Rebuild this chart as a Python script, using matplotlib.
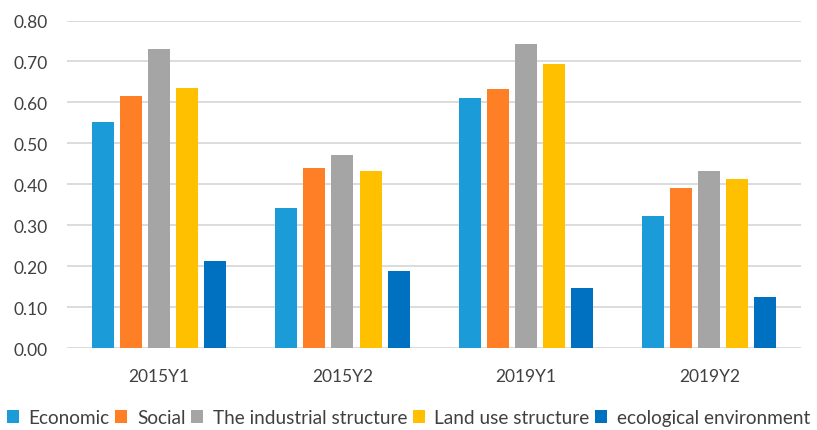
import matplotlib
matplotlib.use("Agg")
import matplotlib.pyplot as plt
import numpy as np

categories = ["2015Y1", "2015Y2", "2019Y1", "2019Y2"]
series_names = ["Economic", "Social", "The industrial structure",
                "Land use structure", "ecological environment"]
economic = [0.553, 0.341, 0.612, 0.322]
social = [0.615, 0.440, 0.633, 0.392]
industrial = [0.730, 0.472, 0.743, 0.432]
land_use = [0.636, 0.432, 0.693, 0.414]
ecological = [0.212, 0.188, 0.146, 0.124]
yticks = [0.0, 0.1, 0.2, 0.3, 0.4, 0.5, 0.6, 0.7, 0.8]

colors = ["#1B9BD7", "#FF7F27", "#A5A5A5", "#FFC000", "#0070C0"]
series = [economic, social, industrial, land_use, ecological]

plt.rcParams['font.family'] = ['Lato', 'DejaVu Sans']

fig = plt.figure(figsize=(8.17, 4.31), dpi=100)
ax = fig.add_axes([0.0824, 0.190, 0.898, 0.760])

x = np.arange(len(categories))
step = 0.153
width = 0.12
handles = []
for i, (vals, c, name) in enumerate(zip(series, colors, series_names)):
    b = ax.bar(x + (i - 2) * step, vals, width=width, color=c, label=name, zorder=3)
    handles.append(b)

ax.set_xlim(-0.5, len(categories) - 0.5)
ax.set_ylim(0, 0.8)
ax.set_yticks(yticks)
ax.set_yticklabels([f"{v:.2f}" for v in yticks])
ax.set_xticks(x)
ax.set_xticklabels(categories)
ax.tick_params(axis='both', length=0, labelsize=12.5, colors="#404040")
ax.tick_params(axis='x', pad=14)
ax.tick_params(axis='y', pad=14)
ax.grid(axis='y', color="#D9D9D9", linewidth=1.3, zorder=0)
for s in ax.spines.values():
    s.set_visible(False)

leg = fig.legend(handles=handles, labels=series_names, loc='center',
                 bbox_to_anchor=(0.5, 0.029), ncol=5, frameon=False,
                 fontsize=13.7, handlelength=0.63, handleheight=0.63,
                 handletextpad=0.5, columnspacing=0.3, borderaxespad=0,
                 borderpad=0)
for t in leg.get_texts():
    t.set_color("#404040")

fig.savefig("out.png", dpi=100)
